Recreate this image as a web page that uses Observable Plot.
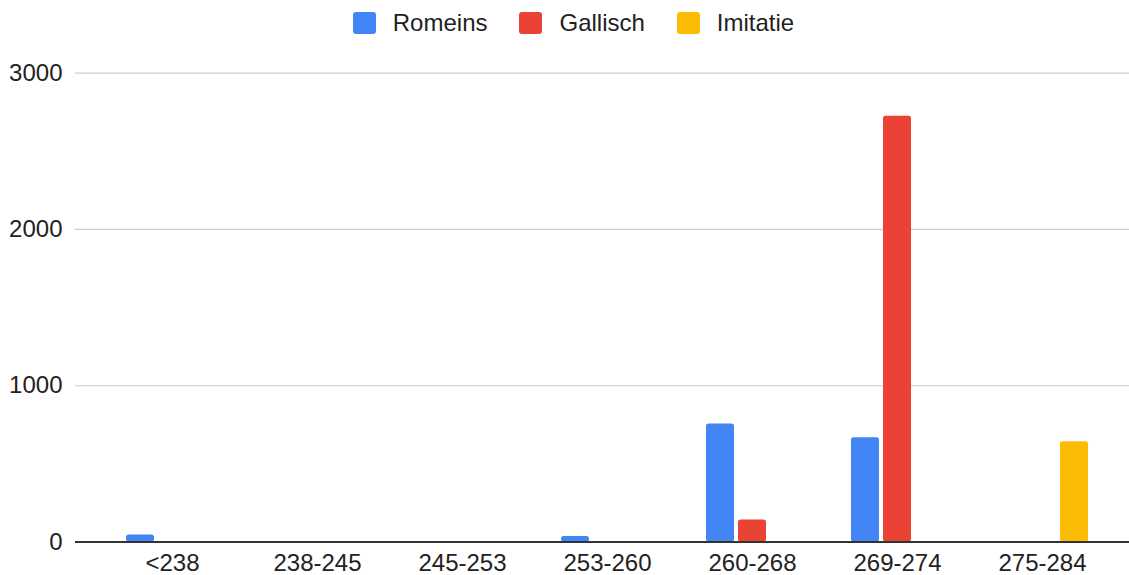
<!DOCTYPE html>
<html>
<head>
<meta charset="utf-8">
<script src="https://cdn.jsdelivr.net/npm/d3@7"></script>
<script src="https://cdn.jsdelivr.net/npm/@observablehq/plot@0.6"></script>
<style>
  html, body { margin: 0; padding: 0; background: #fff; }
  body { width: 1129px; height: 575px; overflow: hidden; font-family: "Liberation Sans", Arial, sans-serif; }
  #legend { height: 45px; display: flex; justify-content: center; align-items: center; padding-left: 18px; box-sizing: border-box; }
  .item { display: flex; align-items: center; margin: 0 16px; font-size: 24px; color: #222; }
  .sw { width: 23px; height: 22px; border-radius: 3px; margin-right: 17px; }
  svg { display: block; }
</style>
</head>
<body>
<div id="legend"></div>
<div id="chart"></div>
<script>
const categories = ["<238", "238-245", "245-253", "253-260", "260-268", "269-274", "275-284"];
const seriesNames = ["Romeins", "Gallisch", "Imitatie"];
const seriesColors = ["#4285F4", "#EA4335", "#FBBC04"];
const romeins  = [45, 0, 0, 35, 755, 667, 0];
const gallisch = [0, 0, 0, 0, 140, 2725, 0];
const imitatie = [0, 0, 0, 0, 0, 0, 641];
const yTicks = [0, 1000, 2000, 3000];

const seriesValues = [romeins, gallisch, imitatie];
const offsets = [-32, 0, 32];

const legend = document.getElementById("legend");
seriesNames.forEach((name, i) => {
  const it = document.createElement("div");
  it.className = "item";
  it.innerHTML = `<span class="sw" style="background:${seriesColors[i]}"></span><span>${name}</span>`;
  legend.appendChild(it);
});

const rows = seriesNames.map((name, i) =>
  categories.map((c, j) => ({category: c, series: name, value: seriesValues[i][j]})).filter(d => d.value > 0)
);

const chart = Plot.plot({
  width: 1129,
  height: 530,
  marginLeft: 75,
  marginRight: 0,
  marginTop: 27.7,
  marginBottom: 33.5,
  style: {fontFamily: '"Liberation Sans", Arial, sans-serif', fontSize: "24px", color: "#222", background: "#fff"},
  x: {domain: categories, range: [156, 1057], paddingInner: 0.807, paddingOuter: 0, label: null, tickSize: 0, tickPadding: 12},
  y: {domain: [0, 3000], ticks: yTicks, label: null, tickSize: 0, tickPadding: 13, tickFormat: d => String(d)},
  color: {domain: seriesNames, range: seriesColors},
  marks: [
    Plot.ruleY(yTicks.slice(1), {stroke: "#cccccc", strokeWidth: 1.2}),
    ...rows.map((data, i) => Plot.barY(data, {x: "category", y: "value", fill: "series", dx: offsets[i], rx: 2.5})),
    Plot.ruleY([0], {stroke: "#333", strokeWidth: 2})
  ]
});
document.getElementById("chart").appendChild(chart);
</script>
</body>
</html>
